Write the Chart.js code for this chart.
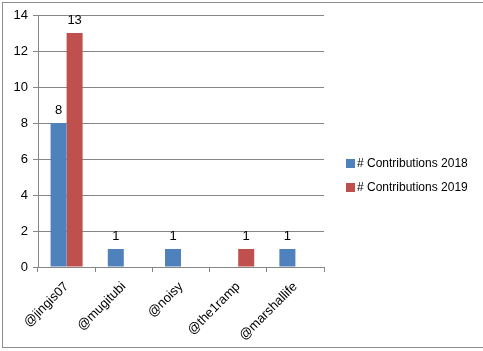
<!DOCTYPE html>
<html>
<head>
<meta charset="utf-8">
<script src="https://cdn.jsdelivr.net/npm/chart.js@4"></script>
<style>
  html, body { margin: 0; padding: 0; background: #fff; }
  #wrap { position: absolute; left: 0; top: 0; width: 483px; height: 351px; }
  #frame { position: absolute; left: 2px; top: 2px; width: 490px; height: 346px;
           border: 1px solid #8c8c8c; box-sizing: border-box; }
</style>
</head>
<body>
<div id="wrap">
  <div id="frame"></div>
  <canvas id="chart" width="483" height="351"></canvas>
</div>
<script>
// data
const users = ['@jingis07', '@mugitubi', '@noisy', '@the1ramp', '@marshallife'];
const contrib2018 = [8, 1, 1, null, 1];
const contrib2019 = [13, null, null, 1, null];
const seriesNames = ['# Contributions 2018', '# Contributions 2019'];
const seriesColors = ['#4F81BD', '#C0504D'];
const yTicks = [0, 2, 4, 6, 8, 10, 12, 14];

const FONT = '"Liberation Sans", Arial, sans-serif';
const GRID = '#868686';

// value labels on top of bars
const barLabels = {
    id: 'barLabels',
    afterDatasetsDraw(chart) {
        const ctx = chart.ctx;
        ctx.save();
        ctx.font = '13px ' + FONT;
        ctx.fillStyle = '#000';
        ctx.textAlign = 'center';
        ctx.textBaseline = 'bottom';
        chart.data.datasets.forEach((ds, i) => {
            chart.getDatasetMeta(i).data.forEach((bar, j) => {
                if (ds.data[j] == null) return;
                ctx.fillText(ds.data[j], bar.x, bar.y - 6);
            });
        });
        ctx.restore();
    }
};

// legend drawn at the right like the original
const sideLegend = {
    id: 'sideLegend',
    afterDraw(chart) {
        const ctx = chart.ctx;
        ctx.save();
        ctx.font = '12px ' + FONT;
        ctx.textBaseline = 'middle';
        chart.data.datasets.forEach((ds, i) => {
            const y = 163 + i * 24;
            ctx.fillStyle = ds.backgroundColor;
            ctx.fillRect(346, y - 4, 9, 9);
            ctx.fillStyle = '#000';
            ctx.fillText(ds.label, 357, y + 1);
        });
        ctx.restore();
    }
};

new Chart(document.getElementById('chart'), {
    type: 'bar',
    data: {
        labels: users,
        datasets: [
            { label: seriesNames[0], data: contrib2018, backgroundColor: seriesColors[0] },
            { label: seriesNames[1], data: contrib2019, backgroundColor: seriesColors[1] }
        ]
    },
    options: {
        responsive: false,
        animation: false,
        layout: { padding: { left: 8, right: 159, top: 15, bottom: 4 } },
        datasets: { bar: { barPercentage: 1, categoryPercentage: 0.56 } },
        plugins: { legend: { display: false }, tooltip: { enabled: false } },
        scales: {
            x: {
                grid: { display: true, drawOnChartArea: false, color: GRID, tickLength: 5, offset: true },
                border: { color: GRID },
                ticks: { color: '#000', font: { family: FONT, size: 13 }, minRotation: 45, maxRotation: 45, autoSkip: false, padding: 7 },
                afterFit(s) { s.height = 80; }
            },
            y: {
                min: 0, max: 14,
                afterBuildTicks(s) { s.ticks = yTicks.map(v => ({ value: v })); },
                grid: { color: GRID, tickLength: 5 },
                border: { color: GRID },
                ticks: { color: '#000', font: { family: FONT, size: 13 }, padding: 5 },
                afterFit(s) { s.width = 30; }
            }
        }
    },
    plugins: [barLabels, sideLegend]
});
</script>
</body>
</html>
